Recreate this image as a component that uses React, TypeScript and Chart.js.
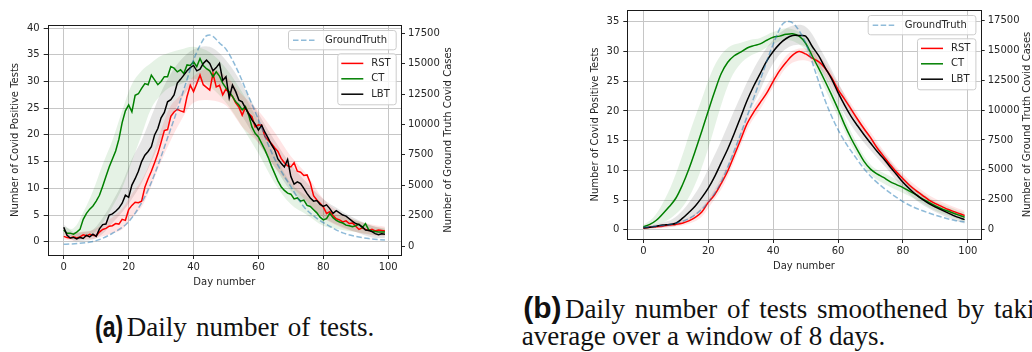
import React, { useEffect, useRef } from 'react';
import { Chart, registerables } from 'chart.js';

Chart.register(...registerables);

// ---------- shared labels / ticks ----------
const X_TICKS = [0, 20, 40, 60, 80, 100];
const Y_TICKS_A = [0, 5, 10, 15, 20, 25, 30, 35, 40];
const Y_TICKS_B = [0, 5, 10, 15, 20, 25, 30, 35];
const Y2_TICKS = [0, 2500, 5000, 7500, 10000, 12500, 15000, 17500];
const SERIES_LABELS = ['RST', 'CT', 'LBT'];
const GT_LABEL = 'GroundTruth';
const X_TITLE = 'Day number';
const Y_TITLE = 'Number of Covid Positive Tests';
const Y2_TITLE = 'Number of Ground Truth Covid Cases';

// ---------- panel (a): daily numbers ----------
const DAYS_A = [
  0, 1, 2, 3, 4, 5, 6, 7, 8, 9, 10, 11, 12, 13, 14, 15, 16, 17, 18, 19,
  20, 21, 22, 23, 24, 25, 26, 27, 28, 29, 30, 31, 32, 33, 34, 35, 36, 37, 38, 39,
  40, 41, 42, 43, 44, 45, 46, 47, 48, 49, 50, 51, 52, 53, 54, 55, 56, 57, 58, 59,
  60, 61, 62, 63, 64, 65, 66, 67, 68, 69, 70, 71, 72, 73, 74, 75, 76, 77, 78, 79,
  80, 81, 82, 83, 84, 85, 86, 87, 88, 89, 90, 91, 92, 93, 94, 95, 96, 97, 98, 99,
];
const RST_A = [
  1.0, 0.8, 0.7, 0.9, 0.7, 0.9, 1.3, 1.1, 1.4, 1.2,
  1.1, 1.8, 2.3, 2.5, 2.9, 3.0, 3.4, 3.3, 4.2, 4.0,
  6.0, 6.8, 7.4, 7.3, 7.6, 10.2, 11.8, 13.2, 14.8, 16.5,
  18.6, 20.8, 21.0, 23.5, 24.3, 24.8, 24.5, 24.3, 27.2, 29.3,
  28.1, 29.6, 31.2, 29.4, 28.9, 28.4, 31.5, 29.0, 29.3, 27.5,
  28.6, 27.8, 27.2, 26.0, 25.2, 23.7, 25.2, 24.0, 23.4, 21.5,
  21.9, 21.8, 19.7, 19.0, 18.4, 17.6, 16.9, 15.6, 14.8, 14.2,
  14.0, 14.8, 13.2, 13.0, 12.4, 12.5, 11.0, 8.6, 7.8, 7.2,
  6.5, 5.3, 5.6, 4.9, 4.3, 4.1, 3.7, 3.9, 3.4, 3.5,
  2.9, 2.3, 2.6, 2.3, 2.1, 2.3, 2.0, 2.2, 2.1, 2.0,
];
const CT_A = [
  2.2, 1.6, 1.6, 1.4, 1.8, 2.3, 4.2, 5.3, 6.1, 6.7,
  7.6, 8.7, 10.4, 12.2, 14.0, 15.5, 17.0, 19.2, 22.3, 24.5,
  25.6, 24.3, 27.4, 27.7, 28.7, 29.6, 29.4, 31.2, 30.3, 29.4,
  30.0, 30.9, 30.9, 32.8, 32.5, 31.8, 32.2, 31.5, 33.1, 33.0,
  33.7, 32.8, 34.3, 33.0, 32.4, 32.0, 30.9, 31.8, 31.0, 29.7,
  28.8, 28.1, 27.2, 26.2, 25.6, 24.7, 25.3, 23.7, 21.5, 20.3,
  19.6, 18.4, 17.2, 15.8, 14.2, 12.8, 11.4, 10.3, 9.6, 9.1,
  8.9, 8.0, 8.2, 7.6, 7.8, 6.8, 6.6, 6.0, 5.4, 4.6,
  4.1, 4.3, 5.3, 4.5, 4.0, 3.7, 3.5, 3.1, 3.0, 2.8,
  3.0, 3.3, 2.6, 3.4, 2.2, 2.0, 1.9, 1.8, 1.8, 1.8,
];
const LBT_A = [
  2.7, 1.2, 0.7, 0.8, 0.5, 0.8, 0.6, 1.2, 0.9, 1.4,
  1.0, 2.4, 3.2, 3.3, 5.0, 5.2, 5.7, 6.3, 7.2, 8.7,
  8.3, 10.6, 11.8, 13.2, 15.0, 16.2, 16.9, 17.8, 20.0, 21.2,
  23.2, 24.2, 26.2, 26.6, 27.5, 29.7, 30.4, 31.2, 32.0, 32.6,
  33.0, 32.0, 32.3, 33.4, 34.0, 33.4, 32.0, 32.6, 33.4, 30.2,
  30.9, 26.9, 29.3, 28.1, 26.5, 26.2, 25.0, 24.0, 22.8, 22.0,
  20.9, 21.8, 20.5, 19.4, 18.2, 17.2, 15.5, 14.7, 14.0, 15.4,
  12.2, 10.8, 11.2, 10.9, 10.0, 9.0, 8.2, 7.6, 7.7, 7.0,
  6.6, 6.9, 6.2, 5.3, 5.8, 5.4, 5.0, 4.8, 4.3, 3.8,
  3.4, 3.2, 2.8, 2.2, 2.1, 1.9, 1.5, 1.3, 1.5, 1.4,
];
const GT_DAYS_A = [0, 5, 10, 15, 20, 25, 28, 30, 32, 35, 38, 40, 42, 44, 45, 46, 48, 50, 52, 54, 57, 60, 63, 66, 70, 74, 78, 82, 86, 90, 94, 99];
const GT_A = [140, 220, 440, 1050, 2000, 4060, 5900, 7350, 8900, 11200, 13700, 15300, 16500, 17300, 17350, 17250, 16700, 16200, 15300, 14200, 12300, 10400, 8350, 6650, 4880, 3230, 2280, 1620, 1080, 790, 610, 490];

const BAND_DAYS = [0, 3, 6, 9, 12, 15, 18, 21, 24, 27, 30, 33, 36, 40, 45, 50, 55, 60, 65, 70, 75, 80, 85, 90, 95, 99];
const CT_HI_A = [2.8, 2.5, 5.5, 9.5, 14.5, 19.0, 24.5, 29.5, 32.0, 33.5, 34.8, 35.5, 36.0, 36.5, 35.5, 32.5, 28.0, 22.5, 16.5, 11.0, 8.5, 6.5, 5.0, 4.0, 3.0, 2.6];
const CT_LO_A = [1.2, 0.9, 0.8, 1.5, 3.5, 6.5, 10.0, 15.0, 20.0, 25.0, 27.5, 29.0, 29.5, 30.5, 29.0, 26.0, 21.5, 16.5, 11.0, 7.0, 5.0, 3.0, 2.3, 1.8, 1.3, 1.2];
const RST_HI_A = [1.8, 1.6, 1.9, 2.2, 3.3, 4.6, 6.2, 9.0, 11.5, 15.5, 21.0, 25.5, 27.5, 31.0, 32.5, 31.0, 27.5, 24.5, 20.5, 16.0, 12.5, 8.0, 5.5, 4.0, 3.2, 2.8];
const RST_LO_A = [0.4, 0.2, 0.4, 0.5, 1.0, 1.6, 2.3, 4.5, 6.5, 10.5, 15.0, 19.0, 22.5, 26.0, 26.5, 25.5, 21.5, 18.5, 14.0, 10.5, 7.5, 4.5, 2.8, 1.8, 1.2, 1.0];
const LBT_HI_A = [3.2, 1.8, 1.8, 2.3, 4.5, 7.5, 11.0, 15.5, 19.0, 23.5, 28.0, 31.5, 34.0, 36.0, 36.5, 34.0, 29.5, 24.0, 19.0, 14.5, 11.0, 8.0, 6.0, 4.3, 3.0, 2.4];
const LBT_LO_A = [1.8, 0.2, 0.2, 0.4, 1.5, 3.5, 5.5, 8.0, 11.0, 15.0, 19.0, 23.0, 26.5, 29.5, 30.0, 28.5, 23.5, 18.5, 14.0, 9.5, 7.0, 4.5, 3.0, 1.8, 0.8, 0.7];

// ---------- panel (b): 8-day smoothed ----------
const DAYS_B = [
  0, 2, 4, 6, 8, 10, 12, 14, 16, 18, 20, 22, 24, 26, 28, 30, 32, 34, 36, 38,
  40, 42, 44, 46, 48, 50, 52, 54, 56, 58, 60, 62, 64, 66, 68, 70, 72, 74, 76, 78,
  80, 82, 84, 86, 88, 90, 92, 94, 96, 98, 99,
];
const RST_B = [
  0.3, 0.4, 0.5, 0.6, 0.8, 0.9, 1.1, 1.5, 2.1, 3.0, 4.6, 5.9, 7.8, 9.9, 12.5, 15.2, 17.9, 19.8, 21.4, 23.0,
  25.0, 26.8, 28.2, 29.4, 30.0, 29.6, 28.9, 28.3, 27.2, 25.6, 23.6, 22.0, 20.3, 18.6, 17.0, 15.5, 13.8, 12.4, 11.0, 9.7,
  8.6, 7.5, 6.6, 5.8, 5.0, 4.4, 3.9, 3.4, 3.0, 2.6, 2.4,
];
const CT_B = [
  0.5, 0.9, 1.6, 2.7, 3.9, 5.3, 7.5, 10.2, 13.3, 16.6, 20.0, 23.3, 26.3, 28.2, 29.3, 29.9, 30.6, 31.0, 31.3, 31.9,
  32.4, 32.6, 32.9, 33.0, 32.6, 31.4, 29.3, 27.2, 25.0, 22.7, 20.3, 17.7, 15.4, 13.4, 11.5, 10.2, 9.4, 8.8, 8.1, 7.6,
  7.1, 6.5, 5.9, 5.2, 4.6, 4.0, 3.5, 3.1, 2.7, 2.3, 2.1,
];
const LBT_B = [
  0.3, 0.4, 0.6, 0.8, 0.9, 1.1, 1.9, 2.9, 4.0, 5.4, 7.0, 9.0, 11.3, 13.6, 16.2, 19.0, 21.8, 24.2, 26.3, 28.4,
  30.0, 31.3, 32.2, 32.7, 32.7, 32.6, 30.9, 29.3, 27.3, 25.4, 23.1, 21.0, 19.1, 17.5, 16.0, 14.6, 13.2, 12.0, 10.6, 9.3,
  8.0, 6.9, 5.9, 5.1, 4.4, 3.8, 3.3, 2.8, 2.3, 1.9, 1.7,
];
const GT_DAYS_B = [0, 4, 8, 12, 16, 20, 24, 28, 32, 36, 40, 43, 45, 47, 50, 53, 56, 59, 62, 65, 68, 71, 74, 77, 80, 84, 88, 92, 96, 99];
const GT_B = [200, 300, 420, 700, 1250, 2300, 4000, 6600, 9500, 12500, 15500, 17200, 17400, 17000, 15600, 13200, 10800, 8900, 7400, 6200, 5100, 4200, 3500, 2900, 2350, 1800, 1400, 1050, 780, 650];

const CT_HI_B = [0.8, 2.0, 4.5, 8.0, 12.5, 17.5, 22.0, 26.5, 29.5, 31.0, 31.5, 32.0, 32.3, 33.3, 33.9, 32.4, 27.3, 21.5, 15.4, 11.0, 9.3, 8.0, 6.5, 4.8, 3.7, 2.9];
const CT_LO_B = [0.3, 0.7, 1.2, 2.2, 3.8, 6.5, 10.5, 15.5, 21.0, 25.5, 28.0, 29.3, 30.0, 31.3, 31.9, 30.2, 24.8, 19.0, 13.3, 9.3, 7.5, 6.2, 4.8, 3.2, 2.2, 1.4];
const RST_HI_B = [0.5, 0.7, 0.9, 1.2, 1.6, 2.4, 3.8, 6.0, 8.8, 12.2, 16.2, 19.9, 22.5, 26.0, 29.8, 30.5, 28.8, 24.6, 20.4, 16.4, 12.6, 9.4, 7.0, 5.2, 4.0, 3.2];
const RST_LO_B = [0.1, 0.2, 0.3, 0.5, 0.7, 1.2, 2.2, 4.4, 6.8, 10.2, 14.2, 17.9, 20.3, 24.0, 27.8, 28.5, 26.8, 22.6, 18.6, 14.6, 10.8, 7.8, 5.4, 3.6, 2.4, 1.6];
const LBT_HI_B = [0.5, 0.8, 1.2, 1.8, 3.2, 5.3, 8.0, 11.5, 15.0, 18.8, 22.5, 26.0, 29.0, 32.0, 34.2, 34.2, 30.0, 24.8, 19.8, 15.8, 12.3, 9.0, 6.4, 4.6, 3.2, 2.4];
const LBT_LO_B = [0.1, 0.2, 0.4, 0.5, 1.0, 2.0, 3.4, 5.3, 8.0, 11.3, 15.5, 20.0, 23.5, 28.0, 30.8, 30.8, 26.6, 21.4, 16.8, 13.4, 10.3, 7.0, 4.6, 3.0, 1.8, 1.0];

// ---------- styles ----------
const RED = '#ff0000';
const GREEN = '#008000';
const BLACK = '#000000';
const GT_COLOR = 'rgba(31,119,180,0.5)';
const GRID = '#c6c6c6';
const TEXT = '#262626';
const FONT = { family: '"DejaVu Sans"', size: 10 };

const pts = (xs: number[], ys: number[]) => xs.map((x, i) => ({ x, y: ys[i] }));

type Panel = {
  days: number[]; rst: number[]; ct: number[]; lbt: number[];
  gtDays: number[]; gt: number[];
  bandDays: number[];
  rstHi: number[]; rstLo: number[]; ctHi: number[]; ctLo: number[]; lbtHi: number[]; lbtLo: number[];
  yMin: number; yMax: number; yTicks: number[];
  y2Min: number; y2Max: number;
  leftW: number; rightW: number; topPad: number; bottomH: number;
  tension: number;
};

function drawBox(ctx: CanvasRenderingContext2D, x: number, y: number, w: number, h: number) {
  ctx.beginPath();
  if ((ctx as any).roundRect) (ctx as any).roundRect(x + 0.5, y + 0.5, w, h, 2.5);
  else ctx.rect(x + 0.5, y + 0.5, w, h);
  ctx.fillStyle = 'rgba(255,255,255,0.8)';
  ctx.fill();
  ctx.strokeStyle = '#cccccc';
  ctx.lineWidth = 1;
  ctx.stroke();
}

const decorPlugin = {
  id: 'decor',
  afterDraw(chart: any) {
    const { ctx, chartArea: ca } = chart;
    ctx.save();
    // frame
    const l = Math.round(ca.left), t = Math.round(ca.top), r = Math.round(ca.right), b = Math.round(ca.bottom);
    ctx.strokeStyle = '#1a1a1a';
    ctx.lineWidth = 1;
    ctx.setLineDash([]);
    ctx.strokeRect(l + 0.5, t + 0.5, r - l, b - t);

    // right axis title (reads bottom to top)
    ctx.save();
    ctx.translate(ca.right + 47, (ca.top + ca.bottom) / 2);
    ctx.rotate(-Math.PI / 2);
    ctx.font = '10px "DejaVu Sans"';
    ctx.fillStyle = TEXT;
    ctx.textAlign = 'center';
    ctx.textBaseline = 'middle';
    ctx.fillText(Y2_TITLE, 0, 0);
    ctx.restore();

    // legends
    const right = ca.right - 5.3;
    const b1 = { x: right - 107.7, y: ca.top + 5, w: 107.7, h: 19.3 };
    drawBox(ctx, b1.x, b1.y, b1.w, b1.h);
    const cy1 = b1.y + b1.h / 2 + 0.5;
    ctx.strokeStyle = GT_COLOR;
    ctx.lineWidth = 1.5;
    ctx.setLineDash([5.5, 2.5]);
    ctx.beginPath();
    ctx.moveTo(b1.x + 5, cy1);
    ctx.lineTo(b1.x + 27, cy1);
    ctx.stroke();
    ctx.setLineDash([]);
    ctx.font = '10px "DejaVu Sans"';
    ctx.fillStyle = TEXT;
    ctx.textAlign = 'left';
    ctx.textBaseline = 'middle';
    ctx.fillText(GT_LABEL, b1.x + 37, cy1);

    const b2 = { x: right - 58.4, y: ca.top + 28.3, w: 58.4, h: 51 };
    drawBox(ctx, b2.x, b2.y, b2.w, b2.h);
    const cols = [RED, GREEN, BLACK];
    const offs = [9.6, 25, 40.4];
    SERIES_LABELS.forEach((lab, i) => {
      const cy = b2.y + offs[i] + 0.5;
      ctx.strokeStyle = cols[i];
      ctx.lineWidth = 1.5;
      ctx.beginPath();
      ctx.moveTo(b2.x + 4, cy);
      ctx.lineTo(b2.x + 26, cy);
      ctx.stroke();
      ctx.fillStyle = TEXT;
      ctx.fillText(lab, b2.x + 34, cy);
    });
    ctx.restore();
  },
};

function buildConfig(p: Panel): any {
  const lineBase = {
    pointRadius: 0,
    pointHoverRadius: 0,
    borderWidth: 1.5,
    fill: false,
    tension: p.tension,
    yAxisID: 'y',
  };
  const band = (hi: number[], lo: number[], color: string, order: number) => [
    {
      data: pts(p.bandDays, hi), yAxisID: 'y', fill: '+1', backgroundColor: color,
      borderColor: 'transparent', borderWidth: 0, pointRadius: 0, tension: 0.35, order,
    },
    {
      data: pts(p.bandDays, lo), yAxisID: 'y', fill: false,
      borderColor: 'transparent', borderWidth: 0, pointRadius: 0, tension: 0.35, order,
    },
  ];
  const datasets = [
    {
      label: GT_LABEL, data: pts(p.gtDays, p.gt), yAxisID: 'y2', borderColor: GT_COLOR,
      borderDash: [5.5, 2.5], borderWidth: 1.5, pointRadius: 0, fill: false,
      cubicInterpolationMode: 'monotone', order: 0,
    },
    { ...lineBase, label: SERIES_LABELS[2], data: pts(p.days, p.lbt), borderColor: BLACK, order: 1 },
    { ...lineBase, label: SERIES_LABELS[1], data: pts(p.days, p.ct), borderColor: GREEN, order: 2 },
    { ...lineBase, label: SERIES_LABELS[0], data: pts(p.days, p.rst), borderColor: RED, order: 3 },
    ...band(p.rstHi, p.rstLo, 'rgba(255,0,0,0.10)', 10),
    ...band(p.ctHi, p.ctLo, 'rgba(0,128,0,0.10)', 11),
    ...band(p.lbtHi, p.lbtLo, 'rgba(0,0,0,0.10)', 12),
  ];
  const gridCommon = { color: GRID, lineWidth: 1, tickLength: 4, tickColor: TEXT, tickWidth: 1 };
  return {
    type: 'line',
    data: { datasets },
    plugins: [decorPlugin],
    options: {
      animation: false,
      responsive: false,
      maintainAspectRatio: false,
      events: [],
      layout: { padding: { top: p.topPad, left: 0, right: 0, bottom: 0 } },
      plugins: { legend: { display: false }, tooltip: { enabled: false }, filler: { propagate: false } },
      scales: {
        x: {
          type: 'linear', position: 'bottom', min: -4.95, max: 103.95,
          afterBuildTicks: (s: any) => { s.ticks = X_TICKS.map((v) => ({ value: v })); },
          afterFit: (s: any) => { s.height = p.bottomH; },
          grid: gridCommon,
          border: { display: false },
          ticks: { font: FONT, color: TEXT, padding: 2, maxRotation: 0, autoSkip: false, callback: (v: any) => String(v) },
          title: { display: true, text: X_TITLE, font: FONT, color: TEXT, padding: { top: 0, bottom: 4 } },
        },
        y: {
          type: 'linear', position: 'left', min: p.yMin, max: p.yMax,
          afterBuildTicks: (s: any) => { s.ticks = p.yTicks.map((v) => ({ value: v })); },
          afterFit: (s: any) => { s.width = p.leftW; },
          grid: gridCommon,
          border: { display: false },
          ticks: { font: FONT, color: TEXT, padding: 4, autoSkip: false, callback: (v: any) => String(v) },
          title: { display: true, text: Y_TITLE, font: FONT, color: TEXT, padding: { top: 9, bottom: 0 } },
        },
        y2: {
          type: 'linear', position: 'right', min: p.y2Min, max: p.y2Max,
          afterBuildTicks: (s: any) => { s.ticks = Y2_TICKS.map((v) => ({ value: v })); },
          afterFit: (s: any) => { s.width = p.rightW; },
          grid: { ...gridCommon, drawOnChartArea: false },
          border: { display: false },
          ticks: { font: FONT, color: TEXT, padding: 3, autoSkip: false, callback: (v: any) => String(v) },
          title: { display: false },
        },
      },
    },
  };
}

const PANEL_A: Panel = {
  days: DAYS_A, rst: RST_A, ct: CT_A, lbt: LBT_A, gtDays: GT_DAYS_A, gt: GT_A,
  bandDays: BAND_DAYS, rstHi: RST_HI_A, rstLo: RST_LO_A, ctHi: CT_HI_A, ctLo: CT_LO_A, lbtHi: LBT_HI_A, lbtLo: LBT_LO_A,
  yMin: -2.49, yMax: 40.58, yTicks: Y_TICKS_A, y2Min: -740, y2Max: 18183,
  leftW: 47.7, rightW: 69, topPad: 25, bottomH: 37, tension: 0,
};
const PANEL_B: Panel = {
  days: DAYS_B, rst: RST_B, ct: CT_B, lbt: LBT_B, gtDays: GT_DAYS_B, gt: GT_B,
  bandDays: BAND_DAYS, rstHi: RST_HI_B, rstLo: RST_LO_B, ctHi: CT_HI_B, ctLo: CT_LO_B, lbtHi: LBT_HI_B, lbtLo: LBT_LO_B,
  yMin: -1.56, yMax: 37.0, yTicks: Y_TICKS_B, y2Min: -772, y2Max: 18355,
  leftW: 47.3, rightW: 51.3, topPad: 9, bottomH: 37, tension: 0.35,
};

function ChartPanel({ panel, left, top, width, height }: { panel: Panel; left: number; top: number; width: number; height: number }) {
  const ref = useRef<HTMLCanvasElement>(null);
  useEffect(() => {
    const chart = new Chart(ref.current as HTMLCanvasElement, buildConfig(panel));
    return () => chart.destroy();
  }, [panel]);
  return (
    <canvas
      ref={ref}
      width={width}
      height={height}
      style={{ position: 'absolute', left, top, width, height }}
    />
  );
}

const serif: React.CSSProperties = {
  position: 'absolute', fontFamily: '"Liberation Serif", serif', fontSize: 27, lineHeight: '27px',
  color: '#111', whiteSpace: 'nowrap', margin: 0,
};
const tag: React.CSSProperties = {
  position: 'absolute', fontFamily: '"Liberation Sans", Arial, sans-serif', fontWeight: 'bold', fontSize: 30,
  lineHeight: '30px', color: '#111', whiteSpace: 'nowrap', transformOrigin: 'left top',
};

export default function App() {
  return (
    <div style={{ position: 'absolute', left: 0, top: 0, width: 1032, height: 352, overflow: 'hidden', background: '#ffffff' }}>
      <ChartPanel panel={PANEL_A} left={0} top={0} width={470} height={292} />
      <ChartPanel panel={PANEL_B} left={580} top={0} width={452} height={276} />
      <div style={{ ...tag, left: 95, top: 312, transform: 'scaleX(0.77)' }}>(a)</div>
      <div style={{ ...serif, left: 126.7, top: 314.4, wordSpacing: 2.5 }}>Daily number of tests.</div>
      <div style={{ ...tag, left: 523.3, top: 293.3 }}>(b)</div>
      <div style={{ ...serif, left: 565, top: 296.1, wordSpacing: 3 }}>Daily number of tests smoothened by taking the</div>
      <div style={{ ...serif, left: 521.7, top: 322.7 }}>average over a window of 8 days.</div>
    </div>
  );
}
